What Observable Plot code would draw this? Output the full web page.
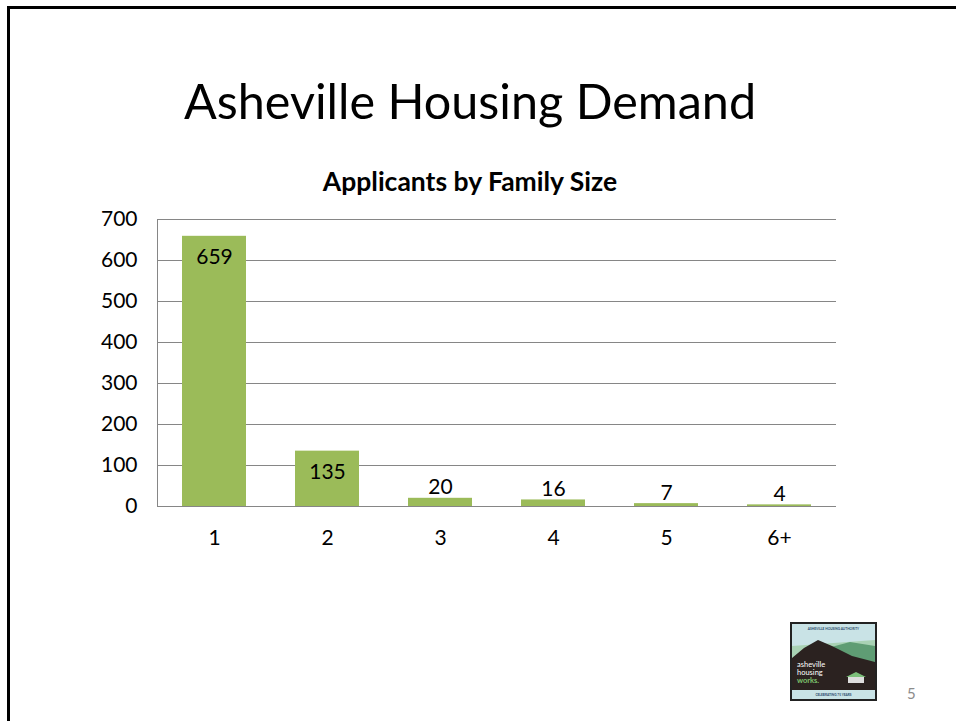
<!DOCTYPE html>
<html>
<head>
<meta charset="utf-8">
<script src="https://cdn.jsdelivr.net/npm/d3@7"></script>
<script src="https://cdn.jsdelivr.net/npm/@observablehq/plot@0.6"></script>
<style>
  html, body { margin: 0; padding: 0; background: #fff; }
  body { width: 956px; height: 721px; position: relative; overflow: hidden; font-family: Lato, "Open Sans", sans-serif; }
  #border-top { position: absolute; left: 7px; top: 6px; width: 949px; height: 3px; background: #000; }
  #border-left { position: absolute; left: 7px; top: 6px; width: 3px; height: 715px; background: #000; }
  #title { position: absolute; left: 0; width: 940px; top: 70px; line-height: 60px; text-align: center; font-size: 48.5px; color: #000; font-family: Lato, sans-serif; }
  #subtitle { position: absolute; left: 0; width: 940px; top: 164px; line-height: 34px; text-align: center; font-size: 26.5px; font-weight: bold; color: #000; font-family: Lato, sans-serif; }
  #chart { position: absolute; left: 0; top: 205px; }
  #logo { position: absolute; left: 790px; top: 622px; }
  #page { position: absolute; left: 907px; top: 684px; font-size: 15px; color: #8c8c8c; font-family: Lato, sans-serif; }
</style>
</head>
<body>
<div id="border-top"></div>
<div id="border-left"></div>
<div id="title">Asheville Housing Demand</div>
<div id="subtitle">Applicants by Family Size</div>
<div id="chart"></div>
<svg id="logo" width="87" height="79" viewBox="0 0 87 79">
  <rect x="0" y="0" width="87" height="79" fill="#222"/>
  <rect x="2" y="2" width="83" height="75" fill="#c9e3e6"/>
  <text x="43.5" y="7.5" font-size="3.2" text-anchor="middle" fill="#2a4a6a" font-family="Lato" font-weight="bold">ASHEVILLE HOUSING AUTHORITY</text>
  <path d="M2 24 L85 18 L85 68 L2 68 Z" fill="#a9d2b4"/>
  <path d="M30 28 L60 20 L85 24 L85 68 L30 68 Z" fill="#5f9d74"/>
  <path d="M2 36 L14 26 L28 18 L42 24 L62 34 L85 40 L85 68 L2 68 Z" fill="#2b2220"/>
  <text x="7" y="45" font-size="7.5" fill="#fff" font-family="Lato">asheville</text>
  <text x="7" y="53" font-size="7.5" fill="#fff" font-family="Lato">housing</text>
  <text x="7" y="61" font-size="7.5" fill="#7cc16c" font-family="Lato" font-weight="bold">works.</text>
  <rect x="58" y="54" width="16" height="7" fill="#ddd"/>
  <path d="M56 55 L66 50 L76 55 Z" fill="#7cbf7a"/>
  <rect x="2" y="68" width="83" height="9" fill="#c9e3e6"/>
  <text x="43.5" y="74" font-size="3.2" text-anchor="middle" fill="#2a4a6a" font-family="Lato" font-weight="bold">CELEBRATING 75 YEARS</text>
</svg>
<div id="page">5</div>
<script>
// Data
const familySizes = ["1", "2", "3", "4", "5", "6+"];
const applicants = [659, 135, 20, 16, 7, 4];
const yTicks = [0, 100, 200, 300, 400, 500, 600, 700];

const data = familySizes.map((s, i) => ({size: s, count: applicants[i]}));
const big = data.filter(d => d.count >= 60);
const small = data.filter(d => d.count < 60);

const plot = Plot.plot({
  width: 956,
  height: 350,
  marginLeft: 157,
  marginRight: 120,
  marginTop: 14,
  marginBottom: 49,
  style: {fontFamily: "Lato, sans-serif", fontSize: "21px", color: "#000", background: "transparent"},
  x: {domain: familySizes, paddingInner: 0.435, paddingOuter: 0.2175, label: null},
  y: {domain: [0, 700], label: null},
  marks: [
    Plot.ruleY(yTicks, {stroke: "#868686", strokeWidth: 1, strokeOpacity: 1}),
    Plot.frame({anchor: "left", stroke: "#868686", strokeOpacity: 1}),
    Plot.barY(data, {x: "size", y: "count", fill: "#9bbb59"}),
    Plot.text(big, {x: "size", y: "count", text: d => String(d.count), lineAnchor: "top", dy: 13, fontSize: 21, fill: "#000"}),
    Plot.text(small, {x: "size", y: "count", text: d => String(d.count), lineAnchor: "bottom", dy: -4, fontSize: 21, fill: "#000"}),
    Plot.axisY({ticks: yTicks, tickSize: 0, tickPadding: 20, fontSize: 21, label: null, tickFormat: d => String(d)}),
    Plot.axisX({tickSize: 0, tickPadding: 24, fontSize: 21, label: null})
  ]
});
document.getElementById("chart").appendChild(plot);
</script>
</body>
</html>
